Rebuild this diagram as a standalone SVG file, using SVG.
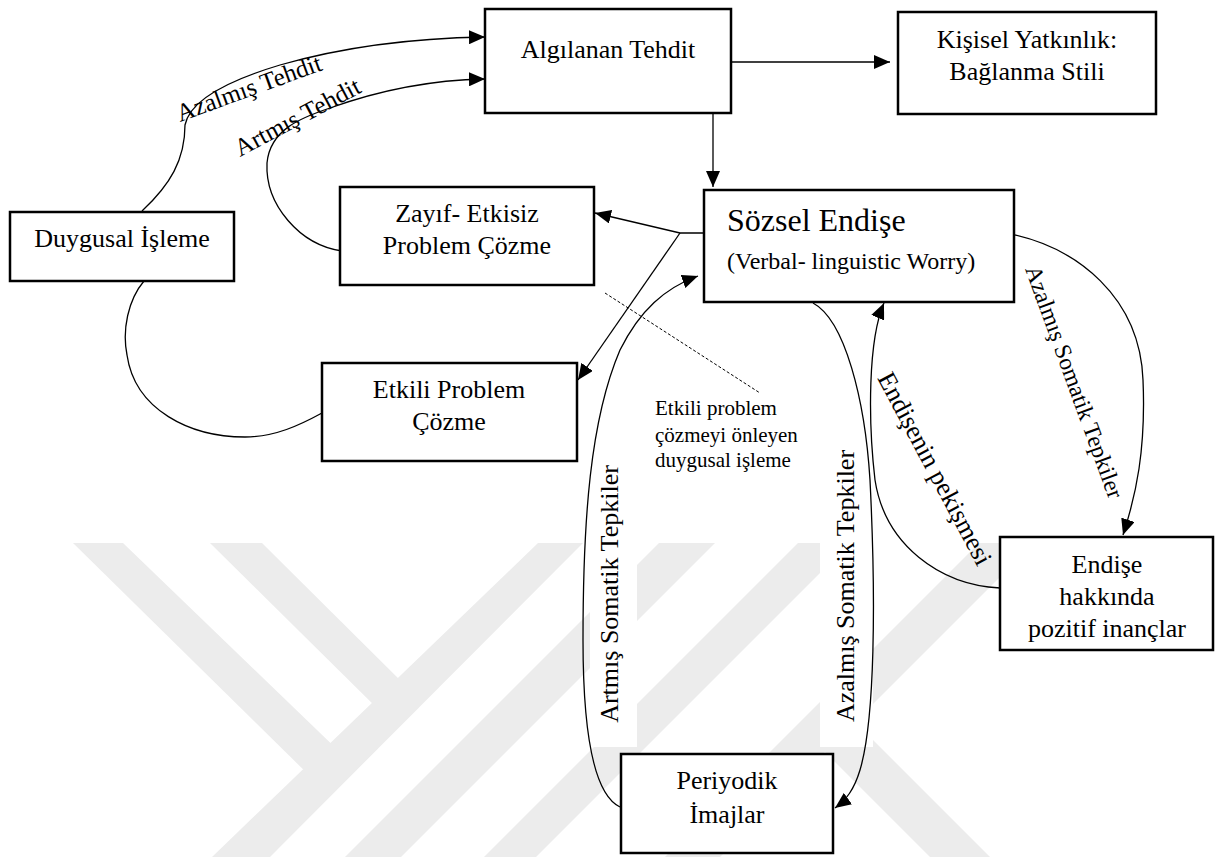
<svg xmlns="http://www.w3.org/2000/svg" width="1215" height="857" viewBox="0 0 1215 857">
<defs>
<style>
.box{fill:#fff;stroke:#000;stroke-width:2.5}
.t{font-family:"Liberation Serif","Times New Roman",serif;font-size:26px;fill:#000}
.c{text-anchor:middle}
.s32{font-size:32px}
.s25{font-size:25px}
.s24{font-size:24px}
.s23{font-size:23.5px}
.s21{font-size:21px}
.ln{fill:none;stroke:#000;stroke-width:1.3}
.wm{fill:#ececec}
</style>
<marker id="ah" viewBox="0 0 16 14" markerWidth="16" markerHeight="14" refX="16" refY="7" orient="auto" markerUnits="userSpaceOnUse"><path d="M0,0 L16,7 L0,14 z" fill="#000"/></marker>
</defs>
<rect x="0" y="0" width="1215" height="857" fill="#fff"/>
<g id="watermark">
<polygon class="wm" points="73,543 123,543 345,757 318,784"/>
<polygon class="wm" points="210,543 262,543 410,690 385,716"/>
<polygon class="wm" points="538,543 583,543 270,857 212,857"/>
<polygon class="wm" points="659,543 715,543 401,857 345,857"/>
<polygon class="wm" points="798,543 850,543 536,857 484,857"/>
<polygon class="wm" points="979,543 1034,543 720,857 665,857"/>
<polygon class="wm" points="803,730 833,700 990,857 930,857"/>
</g>
<g id="label-bg">
<rect x="590" y="440" width="47" height="307" fill="#fff"/>
<rect x="820" y="440" width="53" height="307" fill="#fff"/>
</g>
<g id="connectors">
<path class="ln" d="M142,211 C170,185 185,160 185,125 C190,100 230,80 280,65 C350,45 420,38 485,37" marker-end="url(#ah)"/>
<path class="ln" d="M342,251 C300,245 265,205 267,163 C270,130 300,118 330,108 C380,90 430,80 485,79" marker-end="url(#ah)"/>
<path class="ln" d="M731,62 L890,62" marker-end="url(#ah)"/>
<path class="ln" d="M713,113 L713,187" marker-end="url(#ah)"/>
<path class="ln" d="M704,233 L680,233 L595,213" marker-end="url(#ah)"/>
<path class="ln" d="M680,233 L578,380" marker-end="url(#ah)"/>
<path class="ln" d="M144,281 C128,300 122,330 127,355 C135,410 190,437 245,437 C275,437 300,425 322,413"/>
<path class="ln" d="M620,807 C595,795 583,740 583,640 C583,520 590,420 620,350 C640,310 665,288 698,276" marker-end="url(#ah)"/>
<path class="ln" d="M813,303 C845,320 865,400 870,480 C876,600 875,720 860,770 C854,790 846,800 835,808" marker-end="url(#ah)"/>
<path class="ln" d="M1000,588 C940,585 885,545 875,480 C868,420 868,340 884,303" marker-end="url(#ah)"/>
<path class="ln" d="M1000,232 C1080,245 1140,300 1143,380 C1146,450 1136,495 1123,535" marker-end="url(#ah)"/>
<path d="M605,293 L760,393" fill="none" stroke="#000" stroke-width="1" stroke-dasharray="3,2"/>
</g>
<g id="edge-labels">
<text class="t s25" transform="translate(180,122) rotate(-20)">Azalmış Tehdit</text>
<text class="t s25" transform="translate(240,157) rotate(-28)">Artmış Tehdit</text>
<text class="t c" transform="translate(618,594) rotate(-90)">Artmış Somatik Tepkiler</text>
<text class="t c" transform="translate(854,586) rotate(-90)">Azalmış Somatik Tepkiler</text>
<text class="t" transform="translate(877,378) rotate(62)">Endişenin pekişmesi</text>
<text class="t s23" transform="translate(1025,269) rotate(70)">Azalmış Somatik Tepkiler</text>
<text class="t s21" x="655" y="415">Etkili problem</text>
<text class="t s21" x="655" y="442">çözmeyi önleyen</text>
<text class="t s21" x="655" y="467">duygusal işleme</text>
</g>
<g id="n-algilanan">
<rect class="box" x="485" y="9" width="246" height="104"/>
<text class="t c" x="608" y="58">Algılanan Tehdit</text>
</g>
<g id="n-kisisel">
<rect class="box" x="898" y="12" width="258" height="102"/>
<text class="t c" x="1027" y="48">Kişisel Yatkınlık:</text>
<text class="t c" x="1027" y="80">Bağlanma Stili</text>
</g>
<g id="n-duygusal">
<rect class="box" x="10" y="212" width="224" height="69"/>
<text class="t c" x="122" y="247">Duygusal İşleme</text>
</g>
<g id="n-zayif">
<rect class="box" x="340" y="187" width="254" height="98"/>
<text class="t c" x="467" y="222">Zayıf- Etkisiz</text>
<text class="t c" x="467" y="254">Problem Çözme</text>
</g>
<g id="n-sozsel">
<rect class="box" x="704" y="190" width="310" height="112"/>
<text class="t s32" x="727" y="231">Sözsel Endişe</text>
<text class="t s24" x="727" y="269">(Verbal- linguistic Worry)</text>
</g>
<g id="n-etkili">
<rect class="box" x="322" y="363" width="255" height="98"/>
<text class="t c" x="449" y="398">Etkili Problem</text>
<text class="t c" x="449" y="430">Çözme</text>
</g>
<g id="n-periyodik">
<rect class="box" x="621" y="754" width="212" height="99"/>
<text class="t c" x="727" y="789">Periyodik</text>
<text class="t c" x="727" y="823">İmajlar</text>
</g>
<g id="n-endise">
<rect class="box" x="1000" y="537" width="213" height="113"/>
<text class="t c" x="1107" y="573">Endişe</text>
<text class="t c" x="1107" y="605">hakkında</text>
<text class="t c" x="1107" y="637">pozitif inançlar</text>
</g>
</svg>
